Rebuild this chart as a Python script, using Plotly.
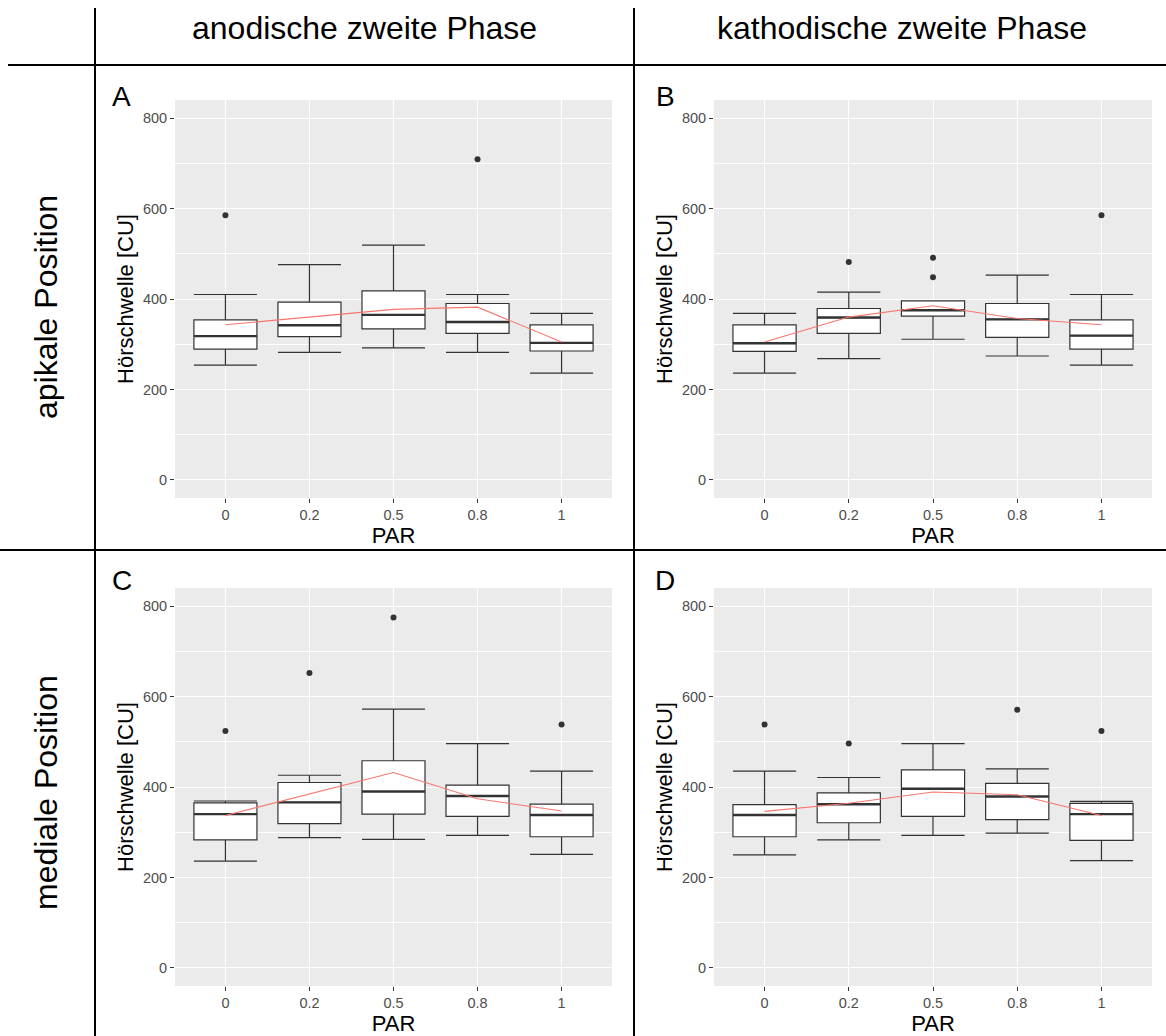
import plotly.graph_objects as go

W, H = 1166, 1036

PAR = ["0", "0.2", "0.5", "0.8", "1"]

# Panel A: anodische zweite Phase, apikale Position
A_lower = [254, 282, 292, 282, 236]
A_q1 = [289, 317, 334, 324, 285]
A_med = [318, 342, 365, 349, 303]
A_q3 = [354, 393, 418, 390, 343]
A_upper = [410, 476, 519, 410, 368]
A_mean = [343, 360, 377, 382, 305]
A_out_x = ["0", "0.8"]
A_out_y = [585, 709]

# Panel B: kathodische zweite Phase, apikale Position
B_lower = [236, 268, 311, 274, 254]
B_q1 = [284, 324, 362, 315, 289]
B_med = [302, 359, 375, 355, 319]
B_q3 = [343, 379, 396, 390, 354]
B_upper = [368, 415, 396, 453, 410]
B_mean = [305, 360, 385, 357, 343]
B_out_x = ["0.2", "0.5", "0.5", "1"]
B_out_y = [482, 491, 448, 585]

# Panel C: anodische zweite Phase, mediale Position
C_lower = [236, 288, 284, 293, 251]
C_q1 = [283, 319, 340, 335, 290]
C_med = [340, 366, 390, 380, 338]
C_q3 = [365, 410, 458, 404, 362]
C_upper = [369, 426, 572, 496, 435]
C_mean = [337, 385, 432, 374, 347]
C_out_x = ["0", "0.2", "0.5", "1"]
C_out_y = [524, 652, 775, 538]

# Panel D: kathodische zweite Phase, mediale Position
D_lower = [250, 283, 293, 298, 237]
D_q1 = [290, 321, 335, 328, 282]
D_med = [338, 362, 396, 379, 340]
D_q3 = [361, 387, 438, 408, 364]
D_upper = [435, 421, 496, 440, 368]
D_mean = [346, 364, 389, 383, 337]
D_out_x = ["0.2", "0.8", "0", "1"]
D_out_y = [496, 571, 538, 524]

col_titles = ["anodische zweite Phase", "kathodische zweite Phase"]
row_titles = ["apikale Position", "mediale Position"]
letters = ["A", "B", "C", "D"]

FONT = "Liberation Sans, Arial, Helvetica, sans-serif"
BOXW = 0.75
GREY20 = "#333333"

panels = [
    (A_lower, A_q1, A_med, A_q3, A_upper, A_mean, A_out_x, A_out_y),
    (B_lower, B_q1, B_med, B_q3, B_upper, B_mean, B_out_x, B_out_y),
    (C_lower, C_q1, C_med, C_q3, C_upper, C_mean, C_out_x, C_out_y),
    (D_lower, D_q1, D_med, D_q3, D_upper, D_mean, D_out_x, D_out_y),
]

# panel pixel boxes (x0, x1, y0, y1) from top-left
boxes_px = [(175, 612, 100, 498), (714, 1152, 100, 498),
            (175, 612, 588, 986), (714, 1152, 588, 986)]

fig = go.Figure()
pos = list(range(len(PAR)))

for k, (lo, q1, med, q3, up, mean, ox, oy) in enumerate(panels):
    xa = "x" if k == 0 else f"x{k+1}"
    ya = "y" if k == 0 else f"y{k+1}"
    fig.add_trace(go.Box(
        x=pos, lowerfence=lo, q1=q1, median=med, q3=q3, upperfence=up,
        width=BOXW, whiskerwidth=1, fillcolor="white",
        line=dict(color=GREY20, width=1.2), boxpoints=False,
        xaxis=xa, yaxis=ya, showlegend=False, hoverinfo="skip"))
    mx, my = [], []
    for i, m in enumerate(med):
        mx += [i - BOXW / 2, i + BOXW / 2, None]
        my += [m, m, None]
    fig.add_trace(go.Scatter(x=mx, y=my, mode="lines",
                             line=dict(color=GREY20, width=2.4),
                             xaxis=xa, yaxis=ya, showlegend=False, hoverinfo="skip"))
    fig.add_trace(go.Scatter(x=pos, y=mean, mode="lines",
                             line=dict(color="#F8766D", width=1.1),
                             xaxis=xa, yaxis=ya, showlegend=False, hoverinfo="skip"))
    fig.add_trace(go.Scatter(x=[PAR.index(v) for v in ox], y=oy, mode="markers",
                             marker=dict(color=GREY20, size=6),
                             xaxis=xa, yaxis=ya, showlegend=False, hoverinfo="skip"))

    x0, x1, y0, y1 = boxes_px[k]
    axis_common = dict(
        showgrid=True, gridcolor="white", gridwidth=1.1, zeroline=False,
        showline=False, ticks="outside", ticklen=4, tickwidth=1.1, tickcolor=GREY20,
        tickfont=dict(family=FONT, size=14.5, color="#4D4D4D"),
        title_font=dict(family=FONT, size=22, color="black"),
    )
    xkey = "xaxis" if k == 0 else f"xaxis{k+1}"
    ykey = "yaxis" if k == 0 else f"yaxis{k+1}"
    fig.update_layout(**{
        xkey: dict(axis_common, domain=[x0 / W, x1 / W], anchor=ya,
                   range=[-0.6, 4.6], tickmode="array", tickvals=pos, ticktext=PAR,
                   title=dict(text="PAR", standoff=2)),
        ykey: dict(axis_common, domain=[1 - y1 / H, 1 - y0 / H], anchor=xa,
                   range=[-40, 840], tickmode="array", tickvals=[0, 200, 400, 600, 800],
                   title=dict(text="Hörschwelle [CU]", standoff=3),
                   minor=dict(tickmode="array", tickvals=[100, 300, 500, 700],
                              showgrid=True, gridcolor="white", gridwidth=0.55, ticks="")),
    })

shapes = []
def line(x0, y0, x1, y1):
    shapes.append(dict(type="line", xref="paper", yref="paper",
                       x0=x0 / W, x1=x1 / W, y0=1 - y0 / H, y1=1 - y1 / H,
                       line=dict(color="black", width=2)))
line(95, 8, 95, H)
line(634, 8, 634, H)
line(8, 65, W, 65)
line(0, 550, W, 550)

ann = []
def text(t, x, y, size, angle=0, xanchor="center"):
    ann.append(dict(text=t, x=x / W, y=1 - y / H, xref="paper", yref="paper",
                    showarrow=False, textangle=angle, xanchor=xanchor, yanchor="middle",
                    font=dict(family=FONT, size=size, color="black")))
text(col_titles[0], 364.5, 28, 32)
text(col_titles[1], 902, 28, 32)
text(row_titles[0], 46, 307, 32, angle=-90)
text(row_titles[1], 46, 793, 32, angle=-90)
for (lx, ly), L in zip([(121, 97), (665, 97), (122, 580), (665, 580)], letters):
    text(L, lx, ly, 28)

fig.update_layout(
    width=W, height=H, autosize=False,
    margin=dict(l=0, r=0, t=0, b=0),
    paper_bgcolor="white", plot_bgcolor="#EBEBEB",
    shapes=shapes, annotations=ann, showlegend=False,
    font=dict(family=FONT),
)

fig.write_html("out.html", config={"displayModeBar": False},
               post_script="document.body.style.margin='0';document.body.style.padding='0';")
